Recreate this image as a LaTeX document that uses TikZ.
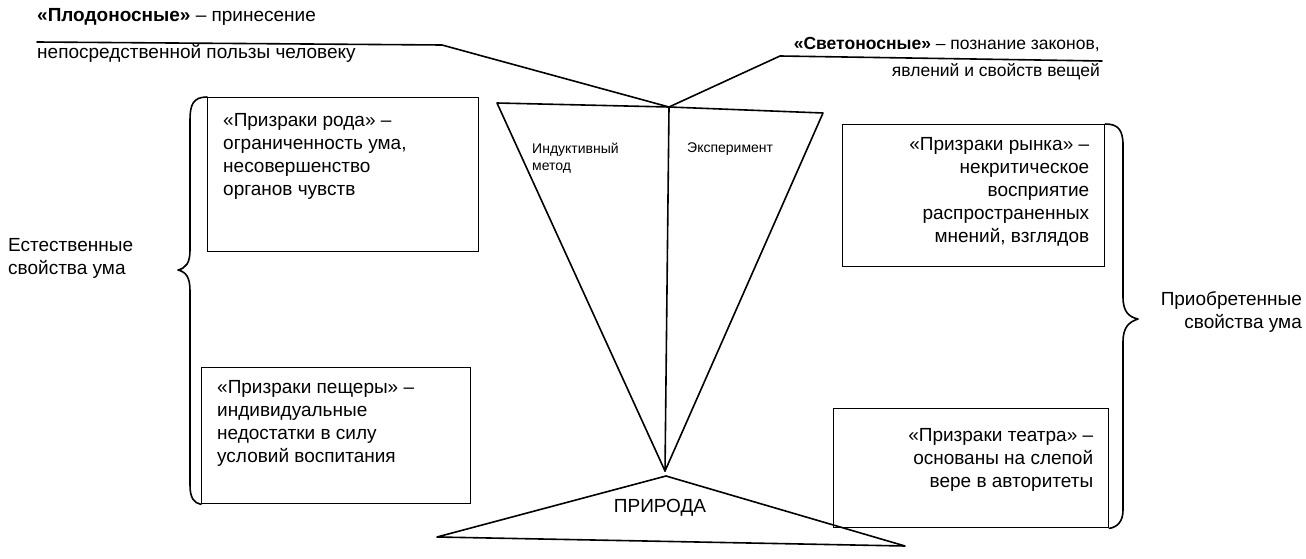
\documentclass[tikz,border=0pt]{standalone}
\usepackage{fontspec}
\setmainfont{Liberation Sans}
\usetikzlibrary{positioning}

\tikzset{
  prizrak/.style={draw, line width=1.4pt, anchor=north west, inner sep=0pt},
  prtext/.style={inner sep=0pt, font=\fontsize{19}{23}\selectfont},
  svtext/.style={inner sep=0pt, font=\fontsize{17.5}{22}\selectfont},
  smalltext/.style={inner sep=0pt, align=left, font=\fontsize{14}{17}\selectfont},
  thickline/.style={line width=1.6pt, line join=round, line cap=round}
}

\begin{document}
\begin{tikzpicture}[x=1pt,y=-1pt]
    \useasboundingbox (0,0) rectangle (1306,559);
    % boxes
    \node[prizrak, minimum width=271pt, minimum height=154pt] (roda) at (207,97) {};
    \node[prizrak, minimum width=269pt, minimum height=136pt] (pescher) at (201,367) {};
    \node[prizrak, minimum width=262pt, minimum height=142pt] (rynok) at (842,124) {};
    \node[prizrak, minimum width=275pt, minimum height=119pt] (teatr) at (833,408) {};
    \node[prtext, anchor=north west, align=left] (rodatxt) at ([xshift=16pt,yshift=-16pt]roda.north west)
        {«Призраки рода» –\\ограниченность ума,\\несовершенство\\органов чувств};
    \node[prtext, anchor=north west, align=left] (peschertxt) at ([xshift=16pt,yshift=-13pt]pescher.north west)
        {«Призраки пещеры» –\\индивидуальные\\недостатки в силу\\условий воспитания};
    \node[prtext, anchor=north east, align=right] (rynoktxt) at ([xshift=-16pt,yshift=-13pt]rynok.north east)
        {«Призраки рынка» –\\некритическое\\восприятие\\распространенных\\мнений, взглядов};
    \node[prtext, anchor=north east, align=right] (teatrtxt) at ([xshift=-16pt,yshift=-20pt]teatr.north east)
        {«Призраки театра» –\\основаны на слепой\\вере в авторитеты};
    % braces
    \coordinate (ltip) at (178,270);
    \coordinate (rtip) at (1138,319);
    \node[prtext, anchor=west, align=left] (estest) at (8,258) {Естественные\\свойства ума};
    \node[prtext, anchor=east, align=right] (priobr) at (1302,312) {Приобретенные\\свойства ума};
    \draw[thickline] (roda.north west) .. controls (193,97) and (190,105) .. (190,120) -- (190,250)
        .. controls (190,263) and (186,268) .. (ltip) .. controls (186,272) and (190,277) .. (190,291)
        -- (190,485) .. controls (190,498) and (194,503) .. (pescher.south west);
    \draw[thickline] (rynok.north east) .. controls (1118,124) and (1123,130) .. (1123,145) -- (1123,297)
        .. controls (1123,312) and (1129,317) .. (rtip) .. controls (1129,322) and (1123,327) .. (1123,342)
        -- (1123,510) .. controls (1123,522) and (1117,527) .. (teatr.south east);
    % inverted triangle
    \coordinate (apex) at (669,107);
    \coordinate (tl) at (497,103);
    \coordinate (tr) at (823,113);
    \coordinate (tip) at (665,471);
    \draw[thickline] (tl) -- (apex) -- (tr) -- (tip) -- cycle;
    \draw[thickline] (apex) -- (tip);
    \node[smalltext, anchor=north west] (induk) at (532,143) {Индуктивный\\метод};
    \node[smalltext, anchor=north west] (eksp) at (687,143) {Эксперимент};
    % nature
    \coordinate (ntop) at (666,476);
    \coordinate (nl) at (437,537);
    \coordinate (nr) at (905,546);
    \draw[thickline] (ntop) -- (nr) -- (nl) -- cycle;
    \node[prtext] (priroda) at (660,508) {ПРИРОДА};
    % titles
    \node[prtext, anchor=base west] (plod1) at (37,22) {\textbf{«Плодоносные»} – принесение};
    \node[prtext, anchor=base west] (plod2) at (37,59) {непосредственной пользы человеку};
    \coordinate (pl0) at (37,42);
    \coordinate (pl1) at (442,45);
    \draw[thickline] (pl0) -- (pl1) -- (apex);
    \node[svtext, anchor=base east] (svet1) at (1100,50) {\textbf{«Светоносные»} – познание законов,};
    \node[svtext, anchor=base east] (svet2) at (1100,77) {явлений и свойств вещей};
    \coordinate (sv0) at (780,56);
    \coordinate (sv1) at (1102,61);
    \draw[thickline] (apex) -- (sv0) -- (sv1);
\end{tikzpicture}
\end{document}
